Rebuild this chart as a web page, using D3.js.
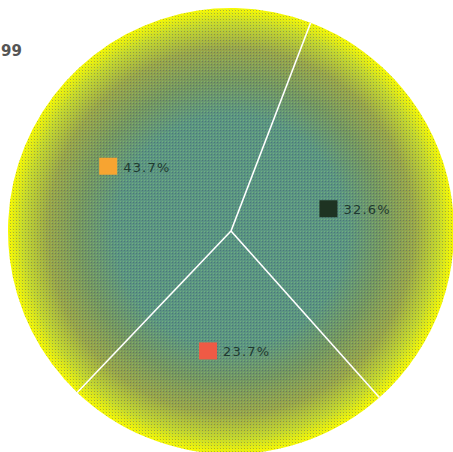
<!DOCTYPE html>
<html>
<head>
<meta charset="utf-8">
<script src="https://cdn.jsdelivr.net/npm/d3@7"></script>
<style>
  html, body { margin: 0; padding: 0; background: #fff; }
  svg { display: block; }
</style>
</head>
<body>
<svg id="chart" width="453" height="452"></svg>
<script>
// Slice data
const categories = ["A", "B", "C"];
const shares = [43.7, 32.6, 23.7];
const swatchColors = ["#f7a431", "#1e3322", "#ef5a45"];
const titleText = "99";

const width = 453, height = 452;
const cx = 231, cy = 231, radius = 223;

const svg = d3.select("#chart");
const defs = svg.append("defs");

// Radial fill: teal core fading out to a bright yellow rim
const grad = defs.append("radialGradient")
  .attr("id", "pieFill")
  .attr("gradientUnits", "userSpaceOnUse")
  .attr("cx", 0).attr("cy", 0).attr("r", radius);
[
  [0.00, "#5a9483"],
  [0.52, "#5c9581"],
  [0.68, "#76975f"],
  [0.82, "#9aa548"],
  [0.93, "#c8d82a"],
  [1.00, "#fafa00"]
].forEach(([o, c]) => grad.append("stop").attr("offset", o).attr("stop-color", c));

// Fine dot texture over the fill
const pat = defs.append("pattern")
  .attr("id", "dots")
  .attr("patternUnits", "userSpaceOnUse")
  .attr("width", 3).attr("height", 3);
pat.append("rect").attr("x", 1).attr("y", 1).attr("width", 1).attr("height", 1)
  .attr("fill", "#2a3c70").attr("opacity", 0.35);
pat.append("rect").attr("x", 0).attr("y", 0).attr("width", 1).attr("height", 1)
  .attr("fill", "#8fe07a").attr("opacity", 0.35);

const pie = d3.pie()
  .sort(null)
  .value(d => d)
  .startAngle(-136.4 * Math.PI / 180)
  .endAngle((360 - 136.4) * Math.PI / 180);

const arcs = pie(shares);
const arc = d3.arc().innerRadius(0).outerRadius(radius);
const labelArc = d3.arc().innerRadius(radius * 0.54).outerRadius(radius * 0.54);

const g = svg.append("g").attr("transform", `translate(${cx},${cy})`);

g.selectAll("path.slice")
  .data(arcs)
  .join("path")
  .attr("class", "slice")
  .attr("d", arc)
  .attr("fill", "url(#pieFill)");

g.selectAll("path.tex")
  .data(arcs)
  .join("path")
  .attr("class", "tex")
  .attr("d", arc)
  .attr("fill", "url(#dots)");

// White separators between slices
g.selectAll("line.sep")
  .data(arcs)
  .join("line")
  .attr("class", "sep")
  .attr("x1", 0).attr("y1", 0)
  .attr("x2", d => Math.sin(d.startAngle) * radius)
  .attr("y2", d => -Math.cos(d.startAngle) * radius)
  .attr("stroke", "#fff")
  .attr("stroke-width", 1.6);

// Labels: colour swatch followed by the percentage, centred on the slice
const lab = g.selectAll("g.lab")
  .data(arcs)
  .join("g")
  .attr("class", "lab")
  .attr("transform", d => {
    const [x, y] = labelArc.centroid(d);
    return `translate(${x},${y})`;
  });

lab.append("rect")
  .attr("x", -30).attr("y", -9)
  .attr("width", 18).attr("height", 17)
  .attr("fill", (d, i) => swatchColors[i]);

lab.append("text")
  .attr("x", -6).attr("y", 5)
  .attr("font-family", "DejaVu Sans, sans-serif")
  .attr("font-size", 13)
  .attr("letter-spacing", 1.2)
  .attr("fill", "#1f3a30")
  .text(d => d.data.toFixed(1) + "%");

svg.append("text")
  .attr("x", 1).attr("y", 56)
  .attr("font-family", "DejaVu Sans, sans-serif")
  .attr("font-size", 15)
  .attr("font-weight", "bold")
  .attr("fill", "#555")
  .text(titleText);
</script>
</body>
</html>
